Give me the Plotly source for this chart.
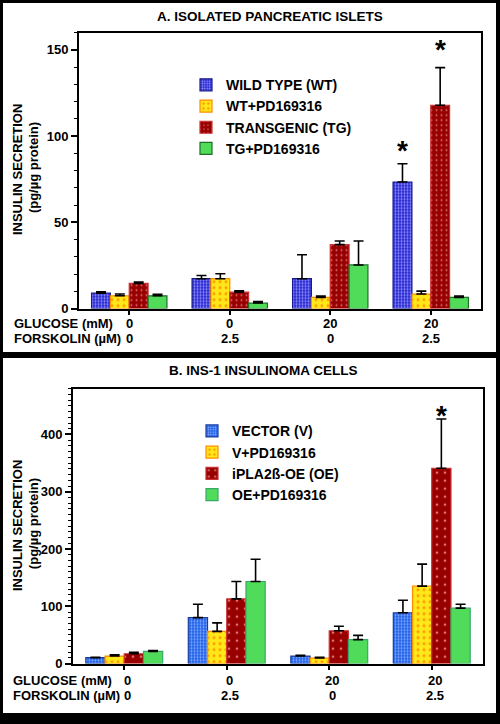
import plotly.graph_objects as go

W, H = 500, 724

# ---------------- data ----------------
categories = ["G0/F0", "G0/F2.5", "G20/F0", "G20/F2.5"]
glucose_labels = ["0", "0", "20", "20"]
forskolin_labels = ["0", "2.5", "0", "2.5"]

# Panel A: isolated pancreatic islets (pg/µg protein)
a_names = ["WILD TYPE (WT)", "WT+PD169316", "TRANSGENIC (TG)", "TG+PD169316"]
a_wt = [8.9, 17.3, 17.3, 73.4]
a_wt_err = [0.8, 1.9, 13.9, 10.6]
a_wtpd = [7.4, 17.3, 6.5, 8.4]
a_wtpd_err = [1.0, 2.9, 0.7, 1.7]
a_tg = [14.6, 9.5, 37.1, 117.9]
a_tg_err = [0.8, 0.8, 2.1, 21.8]
a_tgpd = [7.4, 3.2, 25.3, 6.5]
a_tgpd_err = [0.9, 0.8, 13.9, 0.7]
a_stars = [(3, 0, 96), (3, 2, 154)]  # (category, series, y)

# Panel B: INS-1 insulinoma cells (pg/µg protein)
b_names = ["VECTOR (V)", "V+PD169316", "iPLA2ß-OE (OE)", "OE+PD169316"]
b_v = [10.3, 80.2, 13.2, 88.8]
b_v_err = [0.5, 23.5, 1.1, 21.8]
b_vpd = [13.2, 56.2, 9.7, 135.2]
b_vpd_err = [2.3, 14.9, 1.1, 38.4]
b_oe = [17.2, 112.9, 57.3, 341.0]
b_oe_err = [2.3, 30.4, 8.0, 85.9]
b_oepd = [21.2, 143.3, 41.8, 96.8]
b_oepd_err = [1.7, 38.9, 7.5, 6.9]
b_stars = [(3, 2, 446)]

# ---------------- styles ----------------
def py(px):
    return 1 - px / H

def px_x(px):
    return px / W

styles_a = [
    dict(color="#2a2ad2", fg="#9a9aff", line="#1a1a8a", shape=".", size=3, sol=0.35),
    dict(color="#ffe81a", fg="#ff9a00", line="#ff8c00", shape=".", size=6, sol=0.2),
    dict(color="#980000", fg="#d87070", line="#cc3030", shape=".", size=5, sol=0.12),
    dict(color="#50dc58", fg="#50dc58", line="#1e6e2a", shape="", size=6, sol=0.2),
]
styles_b = [
    dict(color="#1f62ea", fg="#8fb0ff", line="#1a3c9a", shape=".", size=3, sol=0.35),
    dict(color="#ffe81a", fg="#ff9a00", line="#ff8c00", shape=".", size=6, sol=0.2),
    dict(color="#980000", fg="#d87070", line="#cc3030", shape=".", size=8, sol=0.09),
    dict(color="#50dc5a", fg="#50dc5a", line="#38a868", shape="", size=6, sol=0.2),
]

fig = go.Figure()

def add_bars(names, vals, errs, styles, xa, ya, legend):
    for n, v, e, s in zip(names, vals, errs, styles):
        fig.add_trace(go.Bar(
            x=categories, y=v, name=n, xaxis=xa, yaxis=ya, legend=legend,
            marker=dict(color=s["color"], line=dict(color=s["line"], width=1.2),
                        pattern=dict(shape=s["shape"], fgcolor=s["fg"], bgcolor=s["color"],
                                     size=s["size"], solidity=s["sol"], fillmode="replace")),
            error_y=dict(type="data", symmetric=False, array=e, arrayminus=[0] * len(e),
                         color="black", thickness=1.6, width=5),
        ))

add_bars(a_names, [a_wt, a_wtpd, a_tg, a_tgpd],
         [a_wt_err, a_wtpd_err, a_tg_err, a_tgpd_err], styles_a, "x", "y", "legend")
add_bars(b_names, [b_v, b_vpd, b_oe, b_oepd],
         [b_v_err, b_vpd_err, b_oe_err, b_oepd_err], styles_b, "x2", "y2", "legend2")

font_b = dict(family="Liberation Sans, Arial, sans-serif", size=13, color="black", weight="bold")

xcommon = dict(range=[-0.5, 3.5], showline=True, linewidth=2, linecolor="black", mirror=True,
               ticks="outside", tickmode="linear", tick0=-0.5, dtick=0.5, ticklen=4,
               tickwidth=1.5, tickcolor="black", showticklabels=False, showgrid=False,
               zeroline=False, type="category")
ycommon = dict(showline=True, linewidth=2, linecolor="black", mirror=True, ticks="outside",
               ticklen=6, tickwidth=1.5, tickcolor="black", showgrid=False, zeroline=False,
               tickfont=font_b)

layout = dict(
    width=W, height=H, margin=dict(l=0, r=0, t=0, b=0),
    paper_bgcolor="black", plot_bgcolor="white",
    font=font_b, barmode="group", bargap=0.25, bargroupgap=0,
    xaxis=dict(domain=[px_x(79), px_x(481)], anchor="y", **xcommon),
    yaxis=dict(domain=[py(312), py(33)], anchor="x", range=[0, 160],
               tickvals=[0, 50, 100, 150],
               minor=dict(dtick=10, ticks="outside", ticklen=3.5, tickwidth=1.2, tickcolor="black"),
               **ycommon),
    xaxis2=dict(domain=[px_x(73), px_x(483)], anchor="y2", **xcommon),
    yaxis2=dict(domain=[py(671), py(393)], anchor="x2", range=[0, 480],
                tickvals=[0, 100, 200, 300, 400],
                minor=dict(dtick=10, ticks="outside", ticklen=3.5, tickwidth=1.2, tickcolor="black"),
                **ycommon),
    legend=dict(x=px_x(186), y=py(70), xanchor="left", yanchor="top",
                bgcolor="rgba(0,0,0,0)", font=dict(size=14), tracegroupgap=0),
    legend2=dict(x=px_x(192), y=py(420), xanchor="left", yanchor="top",
                 bgcolor="rgba(0,0,0,0)", font=dict(size=14), tracegroupgap=0),
    showlegend=True,
)
fig.update_layout(**layout)

# white panels
for y0, y1 in [(3, 356), (362, 721)]:
    fig.add_shape(type="rect", xref="paper", yref="paper", x0=px_x(3), x1=px_x(496),
                  y0=py(y1), y1=py(y0), fillcolor="white", line=dict(width=0), layer="below")

ann = []
# titles
ann.append(dict(text="A. ISOLATED PANCREATIC ISLETS", x=px_x(270), y=py(17), xref="paper",
                yref="paper", showarrow=False, xanchor="center", yanchor="middle",
                font=dict(size=13.5)))
ann.append(dict(text="B. INS-1 INSULINOMA CELLS", x=px_x(263), y=py(375), xref="paper",
                yref="paper", showarrow=False, xanchor="center", yanchor="middle",
                font=dict(size=13.5)))
# y titles
for cy in [172, 532]:
    ann.append(dict(text="INSULIN SECRETION", x=px_x(17), y=py(cy), xref="paper",
                    yref="paper", textangle=-90, showarrow=False, xanchor="center", yanchor="middle"))
    ann.append(dict(text="(pg/µg protein)", x=px_x(33), y=py(cy - 2), xref="paper",
                    yref="paper", textangle=-90, showarrow=False, xanchor="center", yanchor="middle"))
# row labels & category labels
for xr, gy, fy, lx, sh in [("x", 327, 342, 12, 0), ("x2", 688, 703, 11, 3)]:
    ann.append(dict(text="GLUCOSE (mM)", x=px_x(lx), y=py(gy), xref="paper", yref="paper",
                    showarrow=False, xanchor="left", yanchor="middle"))
    ann.append(dict(text="FORSKOLIN (µM)", x=px_x(lx), y=py(fy), xref="paper", yref="paper",
                    showarrow=False, xanchor="left", yanchor="middle"))
    for i in range(len(categories)):
        ann.append(dict(text=glucose_labels[i], x=i, y=py(gy), xref=xr, yref="paper",
                        showarrow=False, xanchor="center", yanchor="middle", xshift=sh))
        ann.append(dict(text=forskolin_labels[i], x=i, y=py(fy), xref=xr, yref="paper",
                        showarrow=False, xanchor="center", yanchor="middle", xshift=sh))
# stars
nser = 4
bw = (1 - 0.25) / nser
for stars, xr, yr in [(a_stars, "x", "y"), (b_stars, "x2", "y2")]:
    for c, s, yv in stars:
        ann.append(dict(text="*", x=c - 0.375 + bw * (s + 0.5), y=yv, xref=xr, yref=yr,
                        showarrow=False, xanchor="center", yanchor="middle", yshift=-7,
                        font=dict(size=28)))
fig.update_layout(annotations=ann)

fig.write_html("out.html", config={"displayModeBar": False},
               post_script="document.body.style.margin='0';document.body.style.background='black';")
